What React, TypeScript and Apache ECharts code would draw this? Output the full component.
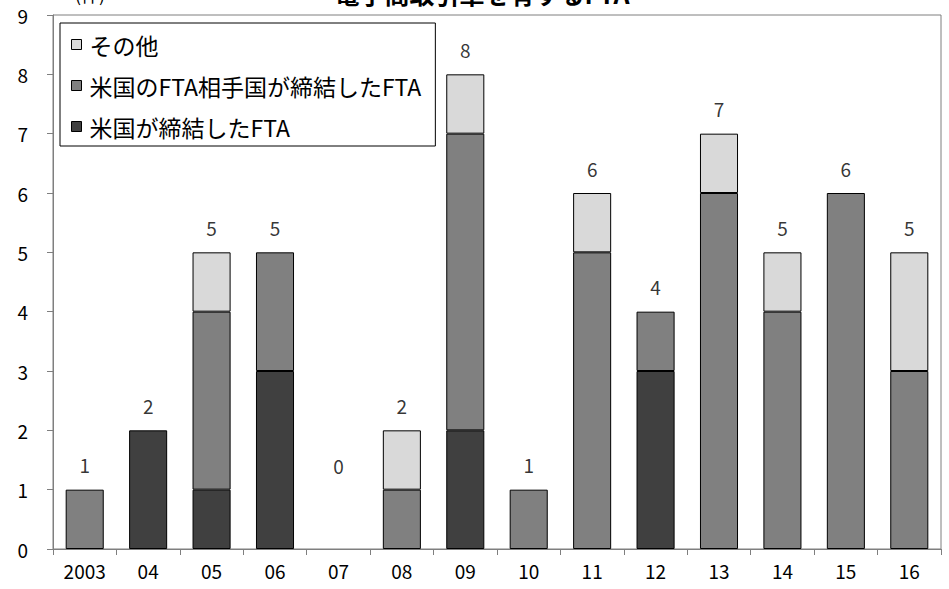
import React, { useEffect, useRef } from "react";
import * as echarts from "echarts";

const categories = ["2003", "04", "05", "06", "07", "08", "09", "10", "11", "12", "13", "14", "15", "16"];
const usConcluded = [0, 2, 1, 3, 0, 0, 2, 0, 0, 3, 0, 0, 0, 0];
const usPartner = [1, 0, 3, 2, 0, 1, 5, 1, 5, 1, 6, 4, 6, 3];
const others = [0, 0, 1, 0, 0, 1, 1, 0, 1, 0, 1, 1, 0, 2];
const totals = [1, 2, 5, 5, 0, 2, 8, 1, 6, 4, 7, 5, 6, 5];
const yTicks = [0, 1, 2, 3, 4, 5, 6, 7, 8, 9];

const FONT = "'Noto Sans CJK JP', 'Liberation Sans', sans-serif";

const barData = (arr: number[]) =>
  arr.map((v) => (v === 0 ? { value: 0, itemStyle: { borderWidth: 0 } } : v));

export default function App() {
  const ref = useRef<HTMLDivElement>(null);
  useEffect(() => {
    if (!ref.current) return;
    const chart = echarts.init(ref.current, null, { renderer: "svg" });
    const axisColor = "#7f7f7f";
    chart.setOption({
      animation: false,
      backgroundColor: "#ffffff",
      textStyle: { fontFamily: FONT },
      grid: {
        left: 53,
        right: 8,
        top: 15,
        bottom: 40,
        show: true,
        borderColor: axisColor,
        borderWidth: 1,
      },
      graphic: [
        {
          type: "text",
          x: 482,
          y: -20,
          style: {
            text: "電子商取引章を有するFTA",
            font: `bold 25px ${FONT}`,
            fill: "#000",
            textAlign: "center",
          },
        },
        {
          type: "text",
          x: 75,
          y: -15,
          style: {
            text: "(件)",
            font: `18px ${FONT}`,
            fill: "#000",
          },
        },
      ],
      legend: {
        data: ["その他", "米国のFTA相手国が締結したFTA", "米国が締結したFTA"],
        orient: "vertical",
        left: 60,
        top: 23,
        padding: [10, 14, 8, 11],
        itemGap: 18,
        itemWidth: 10,
        itemHeight: 10,
        borderColor: "#000",
        borderWidth: 1,
        backgroundColor: "#fff",
        icon: "rect",
        itemStyle: { borderColor: "#000", borderWidth: 1 },
        textStyle: { fontFamily: FONT, fontSize: 23, color: "#000", padding: [0, 0, 0, 3] },
      },
      xAxis: {
        type: "category",
        data: categories,
        axisLine: { lineStyle: { color: axisColor } },
        axisTick: { show: true, length: 6, lineStyle: { color: axisColor } },
        axisLabel: { color: "#000", fontSize: 19, margin: 12, fontFamily: FONT },
      },
      yAxis: {
        type: "value",
        min: 0,
        max: 9,
        interval: 1,
        splitLine: { show: false },
        axisLine: { show: true, lineStyle: { color: axisColor } },
        axisTick: { show: true, length: 6, lineStyle: { color: axisColor } },
        axisLabel: {
          color: "#000",
          fontSize: 19,
          margin: 25,
          fontFamily: FONT,
          formatter: (v: number) => (yTicks.includes(v) ? String(v) : ""),
        },
      },
      series: [
        {
          name: "米国が締結したFTA",
          type: "bar",
          stack: "total",
          data: barData(usConcluded),
          barWidth: "60%",
          itemStyle: { color: "#404040", borderColor: "#000", borderWidth: 1 },
        },
        {
          name: "米国のFTA相手国が締結したFTA",
          type: "bar",
          stack: "total",
          data: barData(usPartner),
          barWidth: "60%",
          itemStyle: { color: "#808080", borderColor: "#000", borderWidth: 1 },
        },
        {
          name: "その他",
          type: "bar",
          stack: "total",
          data: barData(others),
          barWidth: "60%",
          itemStyle: { color: "#d9d9d9", borderColor: "#000", borderWidth: 1 },
        },
        {
          name: "total",
          type: "scatter",
          data: totals.map((v) =>
            v === 0 ? { value: v, label: { offset: [0, -59] } } : v
          ),
          symbolSize: 1,
          itemStyle: { color: "rgba(0,0,0,0)" },
          label: {
            show: true,
            position: "top",
            distance: 15,
            color: "#000",
            fontSize: 19,
            fontFamily: FONT,
          },
          z: 10,
        },
      ],
    });
    return () => chart.dispose();
  }, []);
  return <div ref={ref} style={{ width: 949, height: 589, position: "absolute", left: 0, top: 0 }} />;
}
